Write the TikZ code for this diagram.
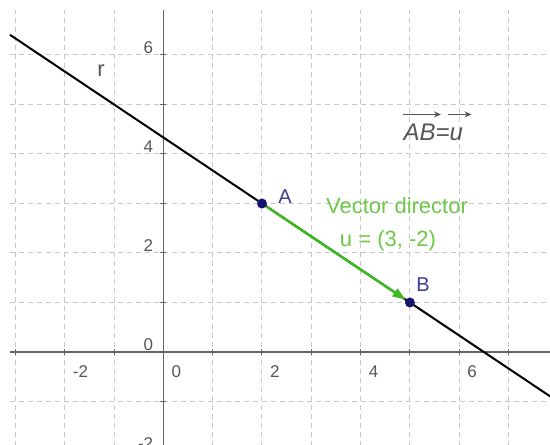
\documentclass[tikz,border=0pt]{standalone}
\usepackage{fontspec}
\setmainfont{Liberation Sans}
\usetikzlibrary{arrows.meta}
\definecolor{gridc}{RGB}{200,200,200}
\definecolor{axisc}{RGB}{100,100,100}
\definecolor{labc}{RGB}{85,85,85}
\definecolor{vecc}{RGB}{60,185,35}
\definecolor{vtext}{RGB}{110,200,70}
\definecolor{ptc}{RGB}{20,20,110}
\definecolor{ptlab}{RGB}{60,60,150}
\begin{document}
\begin{tikzpicture}[x=49.3pt,y=49.5pt,
  gridline/.style={gridc, line width=1pt, dash pattern=on 5pt off 4pt},
  axisline/.style={axisc, line width=1.5pt},
  tickline/.style={axisc, line width=1pt},
  numlab/.style={labc, font=\fontsize{17}{17}\selectfont, inner sep=0pt},
  pt/.style={circle, fill=ptc, inner sep=0pt, minimum size=10pt},
  ptlabel/.style={ptlab, font=\fontsize{20}{20}\selectfont, inner sep=0pt},
  vlabel/.style={vtext, font=\fontsize{22}{22}\selectfont, inner sep=0pt},
  vecarrow/.style={labc, line width=1.6pt, -{Stealth[length=7pt,width=6pt]}}]
\useasboundingbox (-163.4pt,-93pt) rectangle (386.6pt,352pt);
\clip (-163.4pt,-93pt) rectangle (386.6pt,352pt);
% grid
\foreach \x in {-3,...,7} \draw[gridline] (\x,-1.9) -- (\x,6.91);
\foreach \y in {-1,...,6} \draw[gridline] (-3.111,\y) -- (7.9,\y);
% axes
\draw[axisline] (-3.111,0) -- (7.9,0);
\draw[axisline] (0,-1.9) -- (0,6.91);
\foreach \x in {-3,...,7} \draw[tickline] (\x,0) ++(0pt,-3pt) -- ++(0pt,6pt);
\foreach \y in {-1,...,6} \draw[tickline] (0,\y) ++(-3pt,0pt) -- ++(6pt,0pt);
% axis labels
\foreach \x in {-2,0,2,4,6} \node[numlab, anchor=west, xshift=8pt, yshift=-20pt] (xl\x) at (\x,0) {\x};
\foreach \y in {-2,0,2,4,6} \node[numlab, anchor=east, xshift=-10pt, yshift=7pt] (yl\y) at (0,\y) {\y};
% line r
\coordinate (r1) at (-3.111,6.407);
\coordinate (r2) at (7.9,-0.933);
\draw[black, line width=2pt] (r1) -- (r2);
\node[labc, font=\fontsize{22}{22}\selectfont, inner sep=0pt] (rl) at (-1.266,5.677) {r};
% points and vector
\node[pt] (A) at (2,3) {};
\node[pt] (B) at (5,1) {};
\draw[vecc, line width=2.5pt, -{Triangle[length=13pt,width=9pt]}] (A) -- (B);
\node[ptlabel] (Al) at (2.465,3.131) {A};
\node[ptlabel] (Bl) at (5.266,1.354) {B};
\node[vlabel] (vd) at (4.738,2.95) {Vector director};
\node[vlabel] (ud) at (4.555,2.242) {u = (3, -2)};
% AB = u
\node[labc, font=\itshape\fontsize{24}{24}\selectfont, inner sep=0pt, anchor=west] (eq) at (4.87,4.43) {AB=u};
\coordinate (e1) at (4.87,4.8);
\coordinate (e2) at (5.63,4.8);
\coordinate (e3) at (5.78,4.8);
\coordinate (e4) at (6.25,4.8);
\draw[vecarrow] (e1) -- (e2);
\draw[vecarrow] (e3) -- (e4);
\end{tikzpicture}
\end{document}
